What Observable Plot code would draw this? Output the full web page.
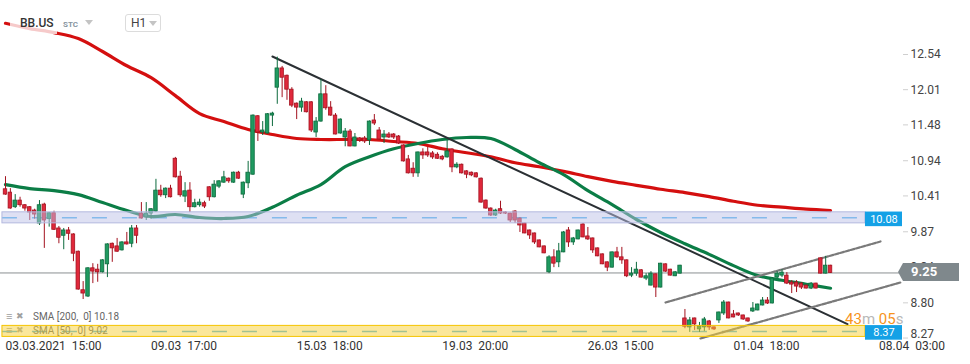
<!DOCTYPE html>
<html><head><meta charset="utf-8">
<script src="https://cdn.jsdelivr.net/npm/d3@7"></script>
<script src="https://cdn.jsdelivr.net/npm/@observablehq/plot@0.6"></script>
<style>
body{margin:0;background:#fff;font-family:Roboto,sans-serif}
#wrap{position:relative;width:970px;height:364px;overflow:hidden}
.abs{position:absolute;white-space:nowrap}
.tri{position:absolute;width:0;height:0;border-left:4px solid transparent;border-right:4px solid transparent;border-top:5px solid #c4c4c4}
</style></head><body>
<div id="wrap">
  <div id="chart"></div>
  <div class="abs" style="left:10px;top:12px;width:47px;height:22px;background:rgba(255,255,255,0.78)"></div>
  <div class="abs" style="left:20px;top:16px;font:500 12px Roboto;color:#333">BB.US</div>
  <div class="abs" style="left:63px;top:20px;font:bold 8px Roboto;color:#8795a1">STC</div>
  <div class="tri" style="left:85px;top:20px"></div>
  <div class="abs" style="left:125px;top:14px;width:34px;height:16px;border:1px solid #dcdcdc;border-radius:3px;background:#fff"></div>
  <div class="abs" style="left:131px;top:16px;font:12px Roboto;color:#444">H1</div>
  <div class="tri" style="left:149px;top:21px"></div>
  <div id="pArrow" class="abs" style="width:0;height:0;border-top:9px solid transparent;border-bottom:9px solid transparent;border-right:5px solid #7f888c"></div>
  <div id="pBox" class="abs" style="height:18px;width:56px;background:#7f888c;color:#fff;font:bold 13px Roboto;line-height:18px;padding-left:8px;box-sizing:border-box"></div>
</div>
<script>
// ---- data ----
const open = [10.51,10.46,10.24,10.34,10.27,10.24,10.19,9.995,10.28,10.06,
10.15,9.92,9.81,9.89,9.83,9.57,8.99,8.895,9.32,9.30,
9.26,9.38,9.69,9.65,9.59,9.71,9.69,9.92,10.145,10.085,
10.145,10.175,10.49,10.42,10.52,10.97,10.70,10.40,10.49,10.24,
10.27,10.30,10.54,10.39,10.55,10.61,10.67,10.61,10.76,10.43,
10.60,10.73,11.61,11.365,11.35,11.62,12.04,12.33,12.22,12.01,
11.80,11.74,11.82,11.82,11.365,11.53,11.94,11.74,11.62,11.35,
11.29,11.38,11.155,11.275,11.275,11.245,11.546,11.395,11.29,11.335,
11.335,11.305,11.17,10.96,10.82,10.75,11.065,11.065,11.05,11.03,
11.00,10.99,11.11,10.84,10.88,10.78,10.76,10.75,10.67,10.34,
10.22,10.115,10.21,10.16,10.145,10.175,10.07,9.995,9.89,9.845,
9.74,9.65,9.26,9.485,9.41,9.56,9.89,9.71,9.755,9.98,
9.80,9.77,9.62,9.53,9.41,9.33,9.56,9.485,9.44,9.21,
9.24,9.29,9.165,9.06,9.23,9.03,9.38,9.30,9.20,9.24,
8.565,8.43,8.565,8.40,8.43,8.52,8.43,8.535,8.64,8.805,
8.625,8.64,8.61,8.565,8.67,8.685,8.76,8.835,8.79,9.18,
9.21,9.21,9.105,9.105,9.09,9.06,9.015,9.09,9.47,9.24,9.36];
const high = [10.70,10.52,10.43,10.39,10.28,10.25,10.21,10.34,10.30,10.16,
10.18,9.95,9.92,9.935,9.84,9.58,9.12,9.33,9.39,9.38,
9.45,9.69,9.70,9.77,9.72,9.86,9.965,9.965,10.31,10.31,
10.22,10.66,10.57,10.53,10.57,10.99,10.78,10.61,10.61,10.36,
10.36,10.33,10.55,10.64,10.64,10.78,10.68,10.77,10.78,10.62,
10.93,11.63,11.62,11.53,11.65,11.67,12.50,12.36,12.23,12.04,
11.81,11.88,11.83,11.83,11.59,12.16,12.07,11.83,11.65,11.57,
11.425,11.41,11.35,11.29,11.305,11.54,11.636,11.44,11.395,11.365,
11.35,11.32,11.18,11.02,10.91,11.07,11.12,11.14,11.08,11.06,
11.02,11.245,11.12,10.91,10.89,10.79,10.77,10.76,10.68,10.35,
10.23,10.21,10.33,10.17,10.15,10.19,10.08,10.00,9.895,9.85,
9.745,9.655,9.51,9.60,9.695,9.875,9.935,9.785,9.895,9.995,
9.935,9.775,9.625,9.535,9.415,9.565,9.635,9.635,9.445,9.33,
9.41,9.30,9.24,9.27,9.235,9.395,9.385,9.305,9.27,9.365,
8.70,8.58,8.57,8.505,8.58,8.535,8.435,8.66,8.835,8.81,
8.685,8.645,8.615,8.57,8.805,8.78,8.88,8.88,9.18,9.27,
9.30,9.255,9.135,9.135,9.105,9.065,9.105,9.095,9.475,9.50,9.365];
const low = [10.42,10.21,10.22,10.24,10.18,10.04,10.06,9.965,9.62,9.94,
9.89,9.69,9.60,9.74,9.42,8.99,8.85,8.88,9.09,9.11,
9.25,9.18,9.41,9.56,9.58,9.67,9.63,9.69,10.06,10.04,
10.055,10.16,10.39,10.37,10.38,10.68,10.39,10.31,10.16,10.23,
10.24,10.22,10.33,10.38,10.52,10.60,10.60,10.60,10.66,10.37,
10.52,10.72,11.23,11.32,11.34,11.455,11.79,11.89,11.85,11.74,
11.56,11.67,11.66,11.365,11.29,11.52,11.70,11.61,11.33,11.34,
11.15,11.15,11.15,11.215,11.20,11.17,11.47,11.25,11.20,11.275,
11.26,11.185,10.92,10.74,10.69,10.69,10.96,10.99,10.96,10.96,
10.94,10.98,10.76,10.82,10.74,10.67,10.70,10.68,10.30,10.21,
10.10,10.10,10.13,10.13,10.01,9.995,9.86,9.84,9.755,9.68,
9.63,9.54,9.24,9.33,9.33,9.555,9.635,9.665,9.75,9.78,
9.74,9.545,9.495,9.375,9.27,9.325,9.47,9.38,9.18,9.18,
9.20,9.175,9.135,9.055,8.88,9.025,9.26,9.205,9.195,9.235,
8.41,8.355,8.385,8.355,8.37,8.385,8.385,8.49,8.61,8.56,
8.575,8.595,8.535,8.505,8.655,8.68,8.755,8.775,8.785,9.165,
9.18,9.075,8.94,8.955,9.00,9.01,9.00,9.01,9.235,9.235,9.245];
const close = [10.43,10.22,10.34,10.27,10.22,10.16,10.13,10.27,10.04,10.15,
9.90,9.78,9.89,9.84,9.54,9.00,8.94,9.32,9.27,9.26,
9.44,9.68,9.62,9.57,9.71,9.68,9.92,9.81,10.07,10.145,
10.21,10.49,10.42,10.52,10.39,10.69,10.42,10.48,10.24,10.30,
10.31,10.25,10.39,10.58,10.63,10.69,10.63,10.76,10.67,10.61,
10.76,11.62,11.365,11.395,11.64,11.65,12.33,12.19,12.01,11.77,
11.74,11.83,11.67,11.395,11.53,11.94,11.73,11.62,11.335,11.56,
11.38,11.155,11.29,11.245,11.23,11.53,11.50,11.26,11.335,11.29,
11.29,11.20,10.93,10.75,10.75,11.065,11.02,11.02,10.99,10.97,
10.96,11.08,10.84,10.88,10.75,10.73,10.72,10.69,10.31,10.22,
10.115,10.19,10.145,10.145,10.04,10.04,9.965,9.845,9.815,9.71,
9.635,9.545,9.485,9.39,9.575,9.86,9.71,9.77,9.89,9.785,
9.755,9.59,9.50,9.38,9.33,9.56,9.485,9.44,9.20,9.24,
9.30,9.18,9.20,9.24,9.03,9.39,9.27,9.21,9.26,9.36,
8.44,8.535,8.475,8.445,8.55,8.43,8.40,8.655,8.805,8.565,
8.58,8.61,8.55,8.52,8.715,8.775,8.835,8.79,9.165,9.24,
9.255,9.09,9.075,9.045,9.03,9.015,9.09,9.015,9.24,9.36,9.25];

const smaIdx = [0,5,10,15,20,25,30,35,40,45,50,55,60,65,70,75,80,85,90,95,100,105,110,115,120,125,130,135,140,145,150,155,160,165,170];
const sma200 = [13.01,12.93,12.87,12.78,12.585,12.37,12.19,11.92,11.65,11.53,11.41,11.335,11.275,11.26,11.26,11.26,11.23,11.20,11.12,11.06,11.00,10.91,10.85,10.78,10.70,10.63,10.57,10.51,10.46,10.40,10.33,10.27,10.24,10.21,10.19];
const sma50 = [10.58,10.52,10.49,10.43,10.31,10.19,10.10,10.13,10.085,10.07,10.10,10.24,10.42,10.58,10.85,11.00,11.12,11.20,11.26,11.29,11.275,11.11,10.91,10.73,10.49,10.28,10.055,9.86,9.69,9.53,9.36,9.21,9.14,9.08,9.02];

const trendX = [55.0, 173.5], trendY = [12.51, 8.48];
const chanUpX = [136.0, 180.3], chanUpY = [8.805, 9.724];
const chanLoX = [143.2, 184.4], chanLoY = [8.263, 9.106];

const blueLevel = [10.08], yellowLevel = [8.37];
const lastPrice = 9.25;
const yTicks = [12.54, 12.01, 11.48, 10.94, 10.41, 9.87, 9.34, 8.80, 8.27];
const xTickIdx = [0, 30, 60, 90, 120, 150, 180];
const xTickLabels = ["03.03.2021\u00a0 15:00", "09.03\u00a0 17:00", "15.03\u00a0 18:00", "19.03\u00a0 20:00", "26.03\u00a0 15:00", "01.04\u00a0 18:00", "08.04\u00a0 03:00"];
const legendLines = ["SMA [200,\u00a0 0] 10.18", "SMA [50,\u00a0 0] 9.02"];

// ---- layout constants ----
const xMin = -1.03, xMax = 184.83, bandEnd = 177.2, bandHalf = 0.083;
const G = "#1f9a60", GS = "#0c6a3d", R = "#e0283b", RS = "#a3121f";

const candles = open.map((o, i) => ({i, o, h: high[i], l: low[i], c: close[i]}));
const labelMap = new Map(xTickIdx.map((d, i) => [d, xTickLabels[i]]));

const chart = Plot.plot({
  width: 970, height: 364,
  marginTop: 0, marginBottom: 26, marginLeft: 0, marginRight: 68,
  x: {domain: [xMin, xMax], axis: null},
  y: {domain: [8.263, 13.353], axis: null},
  style: {fontFamily: "Roboto, sans-serif", fontSize: "12px", background: "#fff"},
  marks: [
    Plot.ruleY([lastPrice], {stroke: "#8a8f92", strokeWidth: 1}),
    Plot.ruleY(blueLevel.concat(yellowLevel), {x1: xMin + 0.4, x2: bandEnd, stroke: "#4db3ee", strokeWidth: 1.5, strokeDasharray: "15,15"}),
    Plot.line(sma200, {x: (d, i) => smaIdx[i], y: d => d, stroke: "#d40f0f", strokeWidth: 3.2, curve: "catmull-rom"}),
    Plot.line(sma50, {x: (d, i) => smaIdx[i], y: d => d, stroke: "#0b7d46", strokeWidth: 3.2, curve: "catmull-rom"}),
    Plot.line(trendY, {x: (d, i) => trendX[i], y: d => d, stroke: "#2b3034", strokeWidth: 2}),
    Plot.line(chanUpY, {x: (d, i) => chanUpX[i], y: d => d, stroke: "#7a7a7a", strokeWidth: 2.2, strokeDasharray: "4,1.5"}),
    Plot.line(chanLoY, {x: (d, i) => chanLoX[i], y: d => d, stroke: "#7a7a7a", strokeWidth: 2.2, strokeDasharray: "4,1.5"}),
    Plot.ruleX(candles, {x: "i", y1: "l", y2: "h", stroke: d => d.c >= d.o ? GS : RS, strokeWidth: 1}),
    Plot.rect(candles, {x1: d => d.i - 0.36, x2: d => d.i + 0.36, y1: "o", y2: "c",
      fill: d => d.c >= d.o ? G : R, stroke: d => d.c >= d.o ? GS : RS, strokeWidth: 0.8}),
    Plot.rect(blueLevel, {x1: xMin + 0.4, x2: bandEnd, y1: d => d - bandHalf, y2: d => d + bandHalf, fill: "#bec2e8", fillOpacity: 0.5, stroke: "#b3b8df", strokeWidth: 1}),
    Plot.rect(yellowLevel, {x1: xMin + 0.4, x2: bandEnd, y1: d => d - bandHalf, y2: d => d + bandHalf, fill: "#f7cf35", fillOpacity: 0.5, stroke: "#f5c400", strokeWidth: 1}),
    Plot.rect(blueLevel.concat(yellowLevel), {x1: bandEnd, x2: xMax, y1: d => d - 0.11, y2: d => d + 0.11, dy: 1.5, fill: "#14a1e6"}),
    Plot.text(blueLevel.concat(yellowLevel), {x: (bandEnd + xMax) / 2, y: d => d, dy: 1.5, text: d => d.toFixed(2), fill: "#fff", fontSize: 11}),
    Plot.axisY({anchor: "right", ticks: yTicks, tickSize: 5, tickPadding: 3, tickFormat: d => d.toFixed(2), stroke: "#cfcfcf", fill: "#444", fontSize: 12, label: null}),
    Plot.axisX({ticks: xTickIdx, tickSize: 0, tickPadding: 3, tickFormat: d => labelMap.get(d), textAnchor: "start", fill: "#333", fontSize: 12, label: null})
  ]
});

document.getElementById("chart").appendChild(chart);

const svg = d3.select(chart);
// lowest price label sits slightly raised, as in the platform
svg.selectAll("text").filter(function(){ return this.textContent === "8.27"; })
  .attr("transform", function(){ return (this.getAttribute("transform") || "") + " translate(0,-4)"; });

// legend (beneath the band overlay)
const firstBand = svg.selectAll("g").filter(function(){ return d3.select(this).attr("fill-opacity") === "0.5"; }).node();
const frameBottom = chart.scale("y").range[0];
legendLines.forEach((txt, i) => {
  const yy = frameBottom - 22 + i * 14;
  const g = firstBand ? svg.insert("g", () => firstBand) : svg.append("g");
  g.attr("text-anchor", "start").attr("font-family", "Roboto, sans-serif");
  g.append("text").attr("x", 6).attr("y", yy).attr("dy", "0.35em").attr("font-size", 11).attr("fill", "#a0a0a0").text("\u2261");
  g.append("text").attr("x", 16).attr("y", yy).attr("dy", "0.35em").attr("font-size", 9).attr("fill", "#a0a0a0").text("\u2716");
  g.append("text").attr("x", 33).attr("y", yy).attr("dy", "0.35em").attr("font-size", 10).attr("fill", "#666").text(txt);
});

// last price label (HTML overlay positioned with the y scale)
const yp = chart.scale("y").apply(lastPrice);
const xr = chart.scale("x").range[1];
const pa = document.getElementById("pArrow");
pa.style.left = (xr - 4) + "px"; pa.style.top = (yp - 9) + "px";
const pb = document.getElementById("pBox");
pb.style.left = (xr + 1) + "px"; pb.style.top = (yp - 9) + "px";
pb.textContent = lastPrice.toFixed(2);

// countdown
const cd = svg.append("text").attr("x", 845).attr("y", 324).attr("font-size", 15).attr("text-anchor", "start");
cd.append("tspan").attr("fill", "#f7941d").text("43");
cd.append("tspan").attr("fill", "#b8b8b8").text("m");
cd.append("tspan").attr("fill", "#f7941d").text("\u00a005");
cd.append("tspan").attr("fill", "#b8b8b8").text("s");
</script>
</body></html>
